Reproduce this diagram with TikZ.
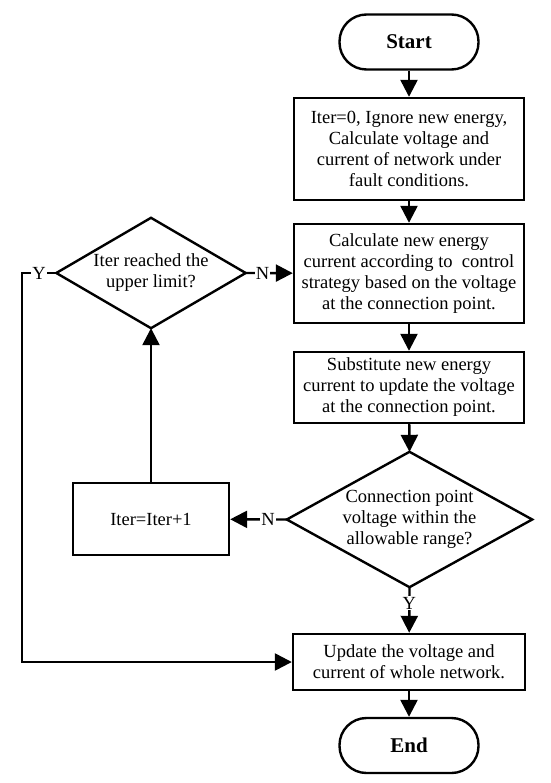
\documentclass[tikz,border=0pt]{standalone}
\usepackage{fontspec}
\setmainfont{Liberation Serif}
\usetikzlibrary{arrows.meta}

\begin{document}
\begin{tikzpicture}[x=1pt,y=-1pt,line width=2.4pt,
  every node/.style={font=\fontsize{18.5}{21}\selectfont},
  term/.style={draw,rounded corners=27pt,minimum width=139pt,minimum height=55pt,
    font=\fontsize{21}{24}\selectfont\bfseries},
  proc/.style={draw,align=center,inner sep=0pt,minimum width=230pt},
  cond/.style={align=center,inner sep=0pt},
  lbl/.style={fill=white,inner sep=1pt},
  flow/.style={-{Triangle[length=17pt,width=17pt]}}]
  \useasboundingbox (0,0) rectangle (550,783);

  \node[term] (start) at (409,42) {Start};
  \node[proc,minimum height=102pt] (init) at (409,149)
    {Iter=0, Ignore new energy,\\Calculate voltage and\\current of network under\\fault conditions.};
  \node[proc,minimum height=99pt] (calc) at (409,273.5)
    {Calculate new energy\\current according to~~control\\strategy based on the voltage\\at the connection point.};
  \node[proc,minimum height=71pt] (subs) at (409,387.5)
    {Substitute new energy\\current to update the voltage\\at the connection point.};
  \node[cond,minimum width=243pt,minimum height=133pt] (range) at (409.5,519.5)
    {Connection point\\voltage within the\\allowable range?};
  \node[proc,minimum width=156pt,minimum height=72pt] (incr) at (151,519) {Iter=Iter+1};
  \node[cond,minimum width=187pt,minimum height=108pt] (limit) at (151,273)
    {Iter reached the\\upper limit?};
  \node[proc,minimum width=232pt,minimum height=56pt] (upd) at (409,662)
    {Update the voltage and\\current of whole network.};
  \node[term] (end) at (409,745.5) {End};
  \coordinate (back) at (22,273);

  % decision outlines
  \foreach \d in {range,limit}
    \draw[line join=miter] (\d.north) -- (\d.east) -- (\d.south) -- (\d.west) -- cycle;

  \draw[flow] (start) -- (init);
  \draw[flow] (init) -- (calc);
  \draw[flow] (calc) -- (subs);
  \draw[flow] (subs) -- (range.north);
  \draw[flow] (range.west) -- node[lbl,pos=0.33]{N} (incr);
  \draw[flow] (incr) -- (limit.south);
  \draw[flow] (limit.east) -- node[lbl,pos=0.36]{N} (calc);
  \draw[flow] (limit.west) -- node[lbl]{Y} (back) |- (upd.west);
  \draw[flow] (range.south) -- node[lbl,pos=0.35]{Y} (upd);
  \draw[flow] (upd) -- (end);
\end{tikzpicture}
\end{document}
